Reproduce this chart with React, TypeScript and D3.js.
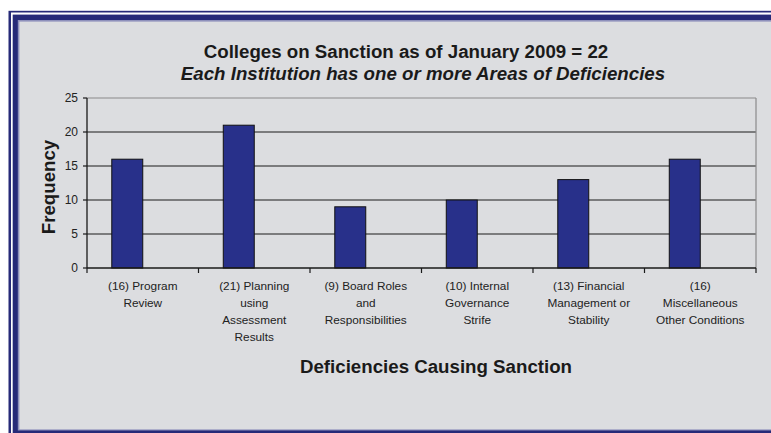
import React from "react";
import * as d3 from "d3";

const categoryLines: string[][] = [
  ["(16) Program", "Review"],
  ["(21) Planning", "using", "Assessment", "Results"],
  ["(9) Board Roles", "and", "Responsibilities"],
  ["(10) Internal", "Governance", "Strife"],
  ["(13) Financial", "Management or", "Stability"],
  ["(16)", "Miscellaneous", "Other Conditions"],
];
const values: number[] = [16, 21, 9, 10, 13, 16];
const yTicks: number[] = [0, 5, 10, 15, 20, 25];
const titleLine1 = "Colleges on Sanction as of January 2009 = 22";
const titleLine2 = "Each Institution has one or more Areas of Deficiencies";
const yTitle = "Frequency";
const xTitle = "Deficiencies Causing Sanction";

const W = 771;
const H = 433;
const NAVY = "#262a78";
const BG = "#dcdde0";
const FONT = "'Liberation Sans', Arial, sans-serif";

export default function App() {
  const left = 87;
  const right = 756;
  const top = 98;
  const bottom = 268;
  const ids = categoryLines.map((_, i) => String(i));
  const x = d3.scaleBand<string>().domain(ids).range([left, right]).padding(0);
  const y = d3.scaleLinear().domain([0, 25]).range([bottom, top]);
  const bw = x.bandwidth() / 3.6;

  return (
    <svg
      width={W}
      height={H}
      style={{ position: "absolute", left: 0, top: 0, display: "block" }}
      fontFamily={FONT}
    >
      <rect x={0} y={0} width={W} height={H} fill="#ffffff" />
      <rect x={8.5} y={10.8} width={900} height={600} fill={NAVY} />
      <rect x={11} y={12.5} width={900} height={600} fill="#ffffff" />
      <rect x={12.7} y={14.6} width={900} height={600} fill={NAVY} />
      <rect x={17.8} y={20} width={900} height={410.5} fill="#8e90bb" />
      <rect x={19.4} y={21.6} width={900} height={407.8} fill={BG} />

      {/* gridlines */}
      {yTicks
        .filter((t) => t > 0 && t < 25)
        .map((t) => (
          <line key={t} x1={left} x2={right} y1={y(t)} y2={y(t)} stroke="#1a1a1a" strokeWidth={1} />
        ))}
      {/* plot area border top/right */}
      <line x1={left} x2={right} y1={y(25)} y2={y(25)} stroke="#8a8a8a" strokeWidth={1.2} />
      <line x1={right} x2={right} y1={top} y2={bottom} stroke="#8a8a8a" strokeWidth={1.2} />

      {/* bars */}
      {values.map((v, i) => {
        const c = (x(String(i)) as number) + x.bandwidth() / 2;
        return (
          <rect
            key={i}
            x={c - bw}
            y={y(v)}
            width={bw}
            height={y(0) - y(v)}
            fill="#28308a"
            stroke="#111"
            strokeWidth={1}
          />
        );
      })}

      {/* axes */}
      <line x1={left} x2={left} y1={top} y2={bottom} stroke="#1a1a1a" strokeWidth={1.3} />
      <line x1={left} x2={right} y1={bottom} y2={bottom} stroke="#1a1a1a" strokeWidth={1.3} />
      {yTicks.map((t) => (
        <g key={t}>
          <line x1={left - 4} x2={left} y1={y(t)} y2={y(t)} stroke="#1a1a1a" strokeWidth={1.2} />
          <text x={left - 9} y={y(t) + 4.3} textAnchor="end" fontSize={12} fill="#222">
            {t}
          </text>
        </g>
      ))}
      {ids.map((id) => (
        <line
          key={id}
          x1={x(id) as number}
          x2={x(id) as number}
          y1={bottom}
          y2={bottom + 5}
          stroke="#1a1a1a"
          strokeWidth={1.2}
        />
      ))}
      <line x1={right} x2={right} y1={bottom} y2={bottom + 5} stroke="#1a1a1a" strokeWidth={1.2} />

      {/* category labels */}
      {categoryLines.map((lines, i) => {
        const c = (x(String(i)) as number) + x.bandwidth() / 2;
        return (
          <text key={i} textAnchor="middle" fontSize={11.8} fill="#222">
            {lines.map((ln, j) => (
              <tspan key={j} x={c} y={290 + j * 17}>
                {ln}
              </tspan>
            ))}
          </text>
        );
      })}

      {/* titles */}
      <text x={406} y={57.5} textAnchor="middle" fontSize={18.7} fontWeight="bold" fill="#1a1a1a">
        {titleLine1}
      </text>
      <text
        x={423}
        y={80}
        textAnchor="middle"
        fontSize={18.7}
        fontWeight="bold"
        fontStyle="italic"
        fill="#1a1a1a"
      >
        {titleLine2}
      </text>
      <text
        transform={`translate(55,${(top + bottom) / 2 + 4}) rotate(-90)`}
        textAnchor="middle"
        fontSize={18.7}
        fontWeight="bold"
        fill="#1a1a1a"
      >
        {yTitle}
      </text>
      <text x={436} y={372.5} textAnchor="middle" fontSize={18.7} fontWeight="bold" fill="#1a1a1a">
        {xTitle}
      </text>
    </svg>
  );
}
